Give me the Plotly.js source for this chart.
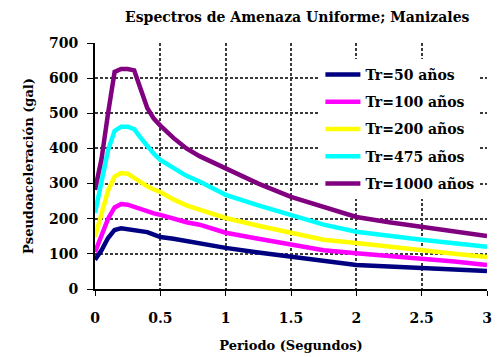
<!DOCTYPE html>
<html>
<head>
<meta charset="utf-8">
<script src="https://cdn.plot.ly/plotly-3.0.1.min.js"></script>
<style>html,body{margin:0;padding:0;background:#fff;}</style>
</head>
<body>
<div id="chart" style="width:503px;height:357px;"></div>
<script>
const periods = [0, 0.05, 0.1, 0.15, 0.2, 0.25, 0.3, 0.35, 0.4, 0.45, 0.5, 0.6, 0.7, 0.8, 0.9, 1.0, 1.25, 1.5, 1.75, 2.0, 2.25, 2.5, 2.75, 3.0];
const tr50   = [83, 110, 145, 168, 173, 170, 166, 164, 162, 155, 148, 143, 136, 130, 123, 117, 104, 91, 78, 68, 64, 60, 55, 51];
const tr100  = [105, 155, 200, 232, 242, 240, 233, 226, 220, 215, 211, 200, 190, 183, 170, 160, 143, 125, 110, 102, 95, 88, 78, 68];
const tr200  = [148, 215, 280, 320, 330, 328, 315, 303, 292, 283, 276, 255, 238, 226, 214, 202, 180, 159, 140, 131, 120, 111, 100, 91];
const tr475  = [216, 300, 395, 450, 462, 462, 455, 430, 405, 385, 367, 343, 322, 306, 287, 268, 238, 211, 183, 163, 150, 140, 130, 120];
const tr1000 = [282, 370, 500, 618, 626, 626, 622, 565, 515, 485, 465, 430, 400, 378, 360, 344, 300, 262, 235, 205, 190, 177, 163, 151];
const seriesNames = ["Tr=50 años", "Tr=100 años", "Tr=200 años", "Tr=475 años", "Tr=1000 años"];
const seriesColors = ["#000080", "#FF00FF", "#FFFF00", "#00FFFF", "#800080"];
const seriesValues = [tr50, tr100, tr200, tr475, tr1000];
const xTicks = [0, 0.5, 1, 1.5, 2, 2.5, 3];
const yTicks = [0, 100, 200, 300, 400, 500, 600, 700];

const fam = "DejaVu Serif, serif";
const font = {family: fam, color: "#000", size: 13, weight: "bold"};
const tickFont = {family: fam, color: "#000", size: 14, weight: "bold"};

const traces = seriesValues.map((vals, i) => ({
  x: periods, y: vals, name: seriesNames[i], type: "scatter", mode: "lines",
  legendgroup: "g" + i,
  line: {color: seriesColors[i], width: 4.5}
}));

const gridStyle = {showgrid: true, gridcolor: "#3a3a3a", gridwidth: 1.5, griddash: "3px,2px"};

const layout = {
  width: 503, height: 357,
  margin: {l: 95, r: 16, t: 43, b: 68},
  paper_bgcolor: "#fff", plot_bgcolor: "#fff",
  font: font,
  title: {text: "Espectros de Amenaza Uniforme; Manizales", font: {family: fam, size: 14, weight: "bold", color: "#000"},
          xref: "container", yref: "container", x: 0.591, y: 0.952, xanchor: "center", yanchor: "middle"},
  xaxis: Object.assign({range: [0, 3], tickvals: xTicks,
          showline: true, linecolor: "#000", linewidth: 2, ticks: "outside", ticklen: 5, tickcolor: "#000",
          zeroline: false, tickfont: tickFont, ticklabelstandoff: 10,
          title: {text: "Periodo (Segundos)", font: font, standoff: 16}}, gridStyle),
  yaxis: Object.assign({range: [0, 700], tickvals: yTicks,
          showline: true, linecolor: "#000", linewidth: 2, ticks: "outside", ticklen: 6, tickcolor: "#000",
          zeroline: false, tickfont: tickFont, ticklabelstandoff: 6,
          title: {text: "Pseudoaceleración (gal)", font: font, standoff: 12}}, gridStyle),
  showlegend: true,
  legend: {x: 0.575, y: 0.935, xanchor: "left", yanchor: "top", bgcolor: "#fff",
           font: {family: fam, color: "#000", size: 14, weight: "bold"},
           tracegroupgap: 6, itemwidth: 35},
};
Plotly.newPlot("chart", traces, layout, {displayModeBar: false});
</script>
</body>
</html>
